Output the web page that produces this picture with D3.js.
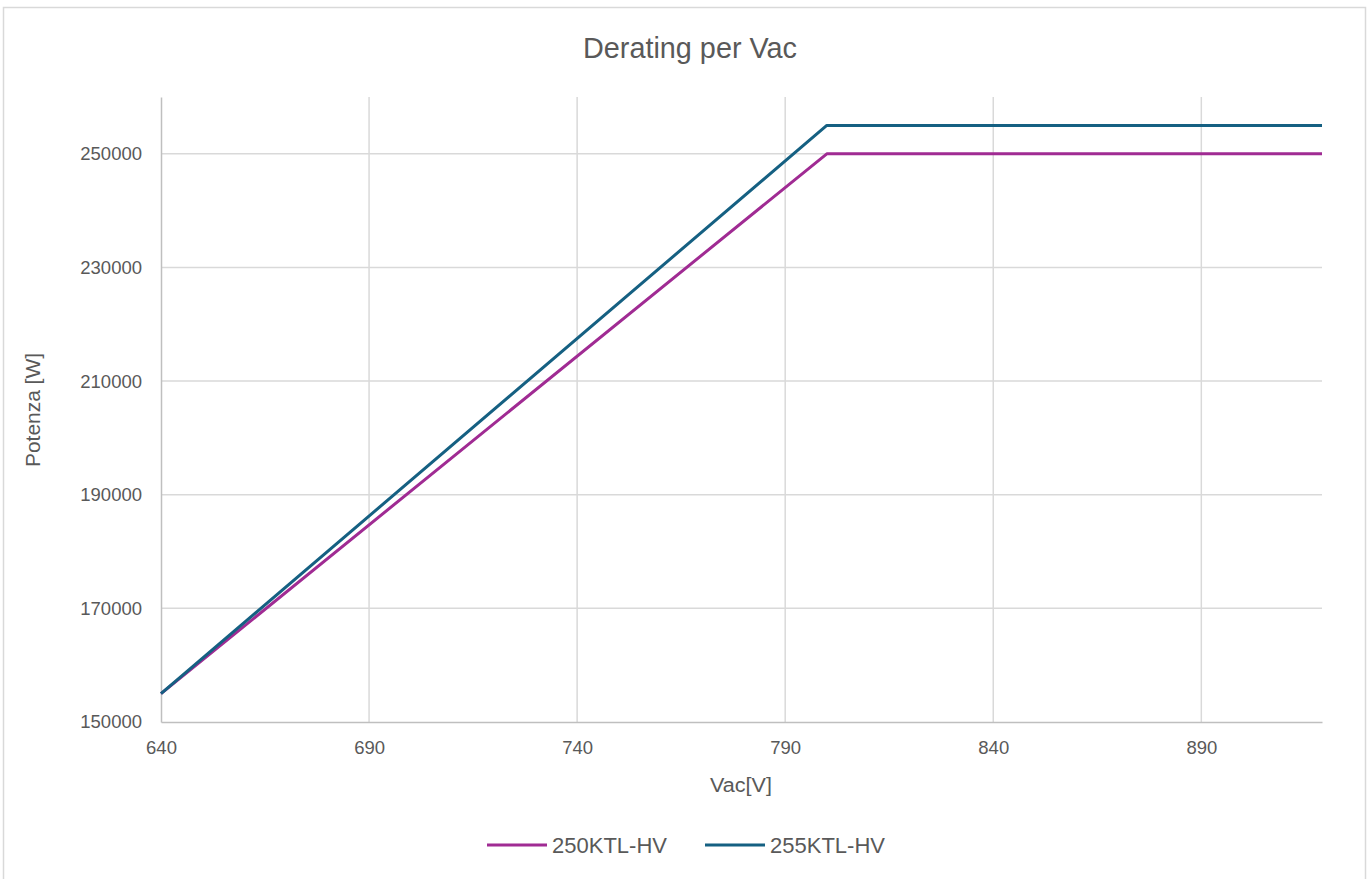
<!DOCTYPE html>
<html>
<head>
<meta charset="utf-8">
<script src="https://cdn.jsdelivr.net/npm/d3@7"></script>
<style>
  body { margin: 0; background: #fff; }
  #chart { width: 1369px; height: 879px; }
</style>
</head>
<body>
<div id="chart"></div>
<script>
// chart values
let seriesNames = ["250KTL-HV", "255KTL-HV"];
let seriesColors = ["#A02B93", "#156082"];
let vac250 = [640, 800, 919];
let pow250 = [155000, 250000, 250000];
let vac255 = [640, 800, 919];
let pow255 = [155000, 255000, 255000];
let xTicks = [640, 690, 740, 790, 840, 890];
let yTicks = [150000, 170000, 190000, 210000, 230000, 250000];

let margin = { top: 97, right: 47, bottom: 157, left: 161 };
let width = 1369;
let height = 879;
let font = "Liberation Sans, Arial, sans-serif";

let svg = d3.select("#chart").append("svg")
  .attr("width", width)
  .attr("height", height);

// outer frame
svg.append("rect")
  .attr("x", 3.5).attr("y", 7.5)
  .attr("width", width - 7).attr("height", height - 6)
  .attr("fill", "#fff")
  .attr("stroke", "#d9d9d9")
  .attr("stroke-width", 1.5);

let xScale = d3.scaleLinear()
  .domain([640, 919])
  .range([margin.left, width - margin.right]);
let yScale = d3.scaleLinear()
  .domain([150000, 260000])
  .range([height - margin.bottom, margin.top]);

// gridlines
svg.append("g")
  .selectAll("line.h")
  .data(yTicks.slice(1))
  .join("line")
  .attr("x1", margin.left).attr("x2", width - margin.right)
  .attr("y1", (d) => yScale(d)).attr("y2", (d) => yScale(d))
  .attr("stroke", "#d9d9d9").attr("stroke-width", 1.5);
svg.append("g")
  .selectAll("line.v")
  .data(xTicks.slice(1))
  .join("line")
  .attr("x1", (d) => xScale(d)).attr("x2", (d) => xScale(d))
  .attr("y1", margin.top).attr("y2", height - margin.bottom)
  .attr("stroke", "#d9d9d9").attr("stroke-width", 1.5);

// axes
let xAxis = d3.axisBottom(xScale).tickValues(xTicks).tickSize(0).tickPadding(19);
let yAxis = d3.axisLeft(yScale).tickValues(yTicks).tickSize(0).tickPadding(19)
  .tickFormat(d3.format("d"));

svg.append("g")
  .attr("transform", `translate(0, ${height - margin.bottom})`)
  .call(xAxis)
  .call((g) => g.select(".domain").attr("stroke", "#bfbfbf").attr("stroke-width", 1.5))
  .call((g) => g.selectAll("text")
    .attr("fill", "#595959")
    .attr("font-family", font)
    .attr("font-size", "18.5px"));

svg.append("g")
  .attr("transform", `translate(${margin.left}, 0)`)
  .call(yAxis)
  .call((g) => g.select(".domain").attr("stroke", "#bfbfbf").attr("stroke-width", 1.5))
  .call((g) => g.selectAll("text")
    .attr("fill", "#595959")
    .attr("font-family", font)
    .attr("font-size", "18.5px"));

// lines
let lineGenerator = d3.line()
  .x((d) => xScale(d[0]))
  .y((d) => yScale(d[1]));

let series = [
  d3.zip(vac250, pow250),
  d3.zip(vac255, pow255),
];

series.forEach((s, i) => {
  svg.append("path")
    .attr("d", lineGenerator(s))
    .attr("fill", "none")
    .attr("stroke", seriesColors[i])
    .attr("stroke-width", 3)
    .attr("stroke-linejoin", "round");
});

// title + axis titles (narrow face, squeezed to width)
svg.append("text")
  .attr("x", 583).attr("y", 58)
  .attr("fill", "#595959")
  .attr("font-family", font)
  .attr("font-size", "29px")
  .attr("textLength", 214)
  .attr("lengthAdjust", "spacingAndGlyphs")
  .text("Derating per Vac");

svg.append("text")
  .attr("x", 710).attr("y", 792)
  .attr("fill", "#595959")
  .attr("font-family", font)
  .attr("font-size", "20px")
  .attr("textLength", 62)
  .attr("lengthAdjust", "spacingAndGlyphs")
  .text("Vac[V]");

svg.append("text")
  .attr("transform", "translate(40, 467) rotate(-90)")
  .attr("fill", "#595959")
  .attr("font-family", font)
  .attr("font-size", "20px")
  .attr("textLength", 114)
  .attr("lengthAdjust", "spacingAndGlyphs")
  .text("Potenza [W]");

// legend
let legendX = [487, 705];
seriesNames.forEach((name, i) => {
  let g = svg.append("g").attr("transform", `translate(${legendX[i]}, 845)`);
  g.append("line")
    .attr("x1", 0).attr("x2", 60)
    .attr("stroke", seriesColors[i])
    .attr("stroke-width", 3);
  g.append("text")
    .attr("x", 65).attr("y", 8)
    .attr("fill", "#595959")
    .attr("font-family", font)
    .attr("font-size", "22px")
    .text(name);
});
</script>
</body>
</html>
